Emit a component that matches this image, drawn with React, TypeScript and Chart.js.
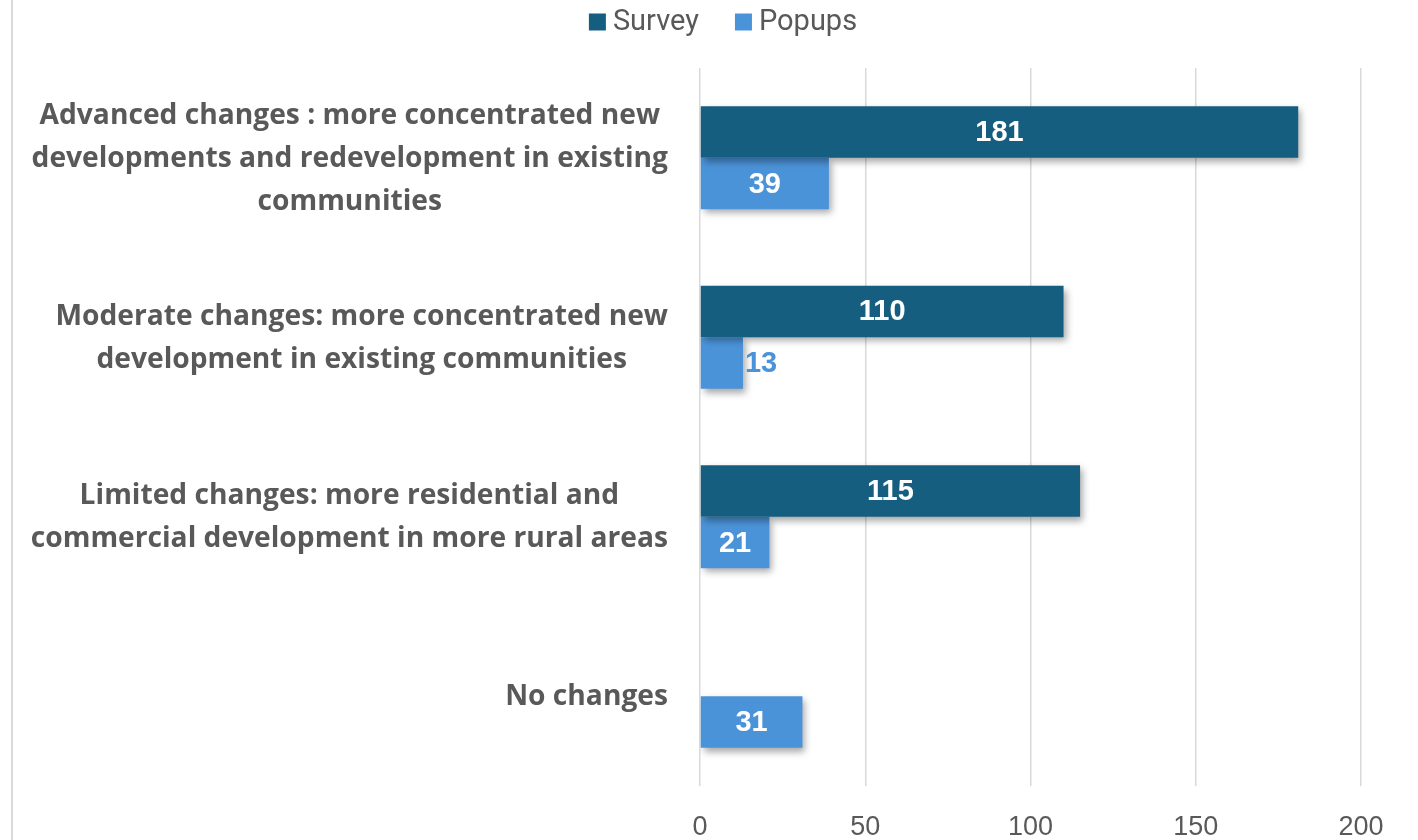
import React, { useEffect, useRef } from "react";
import { Chart, registerables } from "chart.js";

Chart.register(...registerables);

const categoryLines: string[][] = [
  ["Advanced changes : more concentrated new", "developments and redevelopment in existing", "communities"],
  ["Moderate changes: more concentrated new", "development in existing communities"],
  ["Limited changes: more residential and", "commercial development in more rural areas"],
  ["No changes"],
];
const surveyValues: (number | null)[] = [181, 110, 115, null];
const popupValues: number[] = [39, 13, 21, 31];
const seriesNames = ["Survey", "Popups"];
const xTicks = [0, 50, 100, 150, 200];

const SURVEY_COLOR = "#165e80";
const POPUP_COLOR = "#4b93d9";
const TEXT_COLOR = "#595959";

const W = 1418;
const H = 840;

export default function App() {
  const ref = useRef<HTMLCanvasElement | null>(null);
  useEffect(() => {
    document.body.style.margin = "0";
    const canvas = ref.current!;
    const shadowPlugin = {
      id: "shadow",
      beforeDatasetsDraw(chart: any) {
        const ctx = chart.ctx;
        ctx.save();
        ctx.shadowColor = "rgba(0,0,0,0.35)";
        ctx.shadowBlur = 7;
        ctx.shadowOffsetX = 3;
        ctx.shadowOffsetY = 4;
      },
      afterDatasetsDraw(chart: any) {
        chart.ctx.restore();
      },
    };
    const decorPlugin = {
      id: "decor",
      afterDraw(chart: any) {
        const ctx = chart.ctx;
        const yScale = chart.scales.y;
        ctx.save();
        // left border line
        ctx.strokeStyle = "#d9d9d9";
        ctx.lineWidth = 2;
        ctx.beginPath();
        ctx.moveTo(12, 0);
        ctx.lineTo(12, H);
        ctx.stroke();
        // category labels
        ctx.fillStyle = TEXT_COLOR;
        ctx.font = "bold 28.2px 'Open Sans'";
        ctx.textBaseline = "middle";
        ctx.textAlign = "center";
        const lh = 43;
        const rightEdge = 668;
        categoryLines.forEach((lines, i) => {
          const cy = yScale.getPixelForValue(i) + 1;
          const maxW = Math.max(...lines.map((l) => ctx.measureText(l).width));
          const cx = rightEdge - maxW / 2;
          lines.forEach((l, j) => {
            const y = cy + (j - (lines.length - 1) / 2) * lh;
            ctx.fillText(l, cx, y);
          });
        });
        // data labels
        ctx.font = "bold 29px 'Liberation Sans'";
        chart.data.datasets.forEach((ds: any, di: number) => {
          const meta = chart.getDatasetMeta(di);
          meta.data.forEach((bar: any, i: number) => {
            const v = ds.data[i];
            if (v === null || v === undefined) return;
            const txt = String(v);
            const tw = ctx.measureText(txt).width;
            const left = bar.base;
            const right = bar.x;
            if (right - left > tw + 16) {
              ctx.fillStyle = "#ffffff";
              ctx.textAlign = "center";
              ctx.fillText(txt, (left + right) / 2, bar.y + 1);
            } else {
              ctx.fillStyle = ds.backgroundColor;
              ctx.textAlign = "left";
              ctx.fillText(txt, right + 2, bar.y + 1);
            }
          });
        });
        // legend
        ctx.font = "29px Roboto";
        ctx.textAlign = "left";
        const box = 17;
        const gapBoxText = 7;
        const gapItems = 36;
        const items = seriesNames.map((n, i) => ({
          n,
          c: i === 0 ? SURVEY_COLOR : POPUP_COLOR,
          w: box + gapBoxText + ctx.measureText(n).width,
        }));
        const total = items.reduce((s, it) => s + it.w, 0) + gapItems * (items.length - 1);
        let x = 723 - total / 2;
        const ly = 22;
        items.forEach((it) => {
          ctx.fillStyle = it.c;
          ctx.fillRect(x, ly - box / 2, box, box);
          ctx.fillStyle = TEXT_COLOR;
          ctx.fillText(it.n, x + box + gapBoxText, ly + 1);
          x += it.w + gapItems;
        });
        ctx.restore();
      },
    };
    const chart = new Chart(canvas, {
      type: "bar",
      data: {
        labels: categoryLines.map((l) => l.join(" ")),
        datasets: [
          {
            label: seriesNames[0],
            data: surveyValues,
            backgroundColor: SURVEY_COLOR,
            barPercentage: 1,
            categoryPercentage: 0.575,
          },
          {
            label: seriesNames[1],
            data: popupValues,
            backgroundColor: POPUP_COLOR,
            barPercentage: 1,
            categoryPercentage: 0.575,
          },
        ],
      },
      options: {
        indexAxis: "y",
        animation: false,
        responsive: false,
        maintainAspectRatio: false,
        layout: { padding: { left: 700, right: 57, top: 68, bottom: 0 } },
        plugins: { legend: { display: false }, tooltip: { enabled: false } },
        scales: {
          x: {
            min: 0,
            max: 200,
            afterBuildTicks(scale: any) {
              scale.ticks = xTicks.map((v) => ({ value: v }));
            },
            afterFit(scale: any) {
              scale.height = 54;
            },
            grid: { color: "#d9d9d9", lineWidth: 1.5, drawTicks: false },
            border: { display: false },
            ticks: {
              padding: 25,
              color: TEXT_COLOR,
              font: { size: 27, family: "'Liberation Sans Narrow', 'Liberation Sans'" },
            },
          },
          y: { display: false },
        },
      },
      plugins: [shadowPlugin, decorPlugin],
    } as any);
    return () => chart.destroy();
  }, []);
  return <canvas ref={ref} width={W} height={H} style={{ display: "block" }} />;
}
